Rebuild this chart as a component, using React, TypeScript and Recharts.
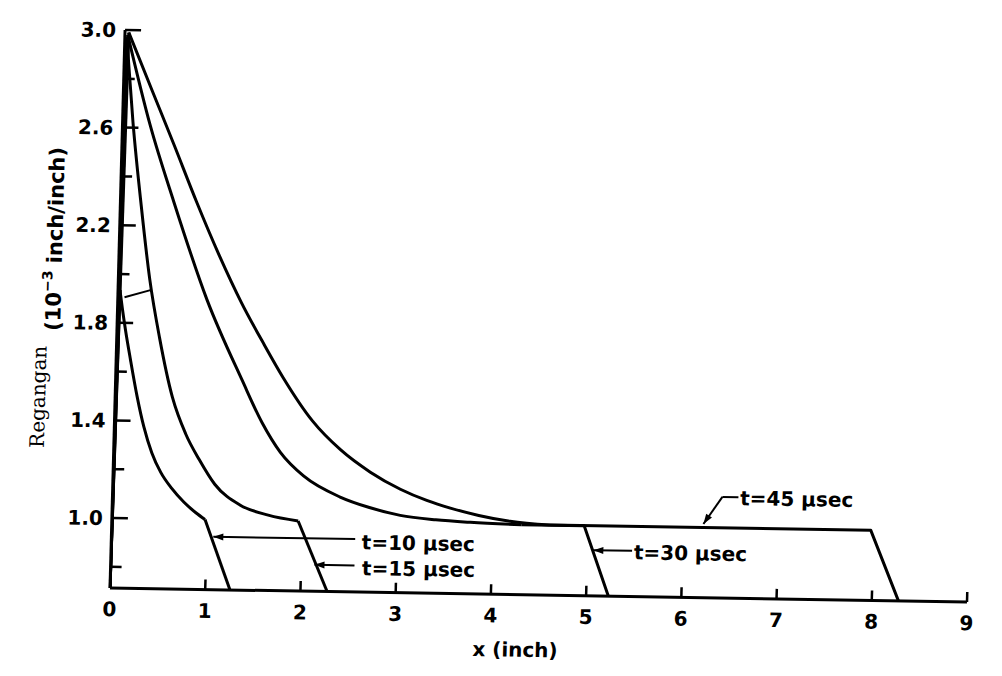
import { LineChart, Line, XAxis, YAxis, ReferenceLine, ReferenceDot } from 'recharts'

interface Pt {
  x: number
  y: number
}

const xTicks = [0, 1, 2, 3, 4, 5, 6, 7, 8, 9]
const yTicks = [0.8, 1.0, 1.2, 1.4, 1.6, 1.8, 2.0, 2.2, 2.4, 2.6, 2.8, 3.0]
const yLabelled = [1.0, 1.4, 1.8, 2.2, 2.6, 3.0]
const yMin = 0.713

// each pulse: steep rise at the loaded end, smooth decay, then the flat part and the wave front
const t10Rise: Pt[] = [{ x: 0, y: 0.713 }, { x: 0.02, y: 1.935 }]
const t10Decay: Pt[] = [
  { x: 0.02, y: 1.935 }, { x: 0.05, y: 1.86 }, { x: 0.09, y: 1.77 }, { x: 0.15, y: 1.65 },
  { x: 0.23, y: 1.5 }, { x: 0.31, y: 1.375 }, { x: 0.4, y: 1.27 }, { x: 0.5, y: 1.19 },
  { x: 0.62, y: 1.125 }, { x: 0.75, y: 1.07 }, { x: 0.88, y: 1.027 }, { x: 0.978, y: 1.0 },
]
const t10Front: Pt[] = [{ x: 0.978, y: 1.0 }, { x: 1.26, y: 0.713 }]

const t15Rise: Pt[] = [{ x: 0, y: 0.713 }, { x: 0.02, y: 2.97 }]
const t15Decay: Pt[] = [
  { x: 0.02, y: 2.97 }, { x: 0.11, y: 2.62 }, { x: 0.22, y: 2.28 }, { x: 0.33, y: 1.98 },
  { x: 0.45, y: 1.74 }, { x: 0.6, y: 1.5 }, { x: 0.75, y: 1.35 }, { x: 0.9, y: 1.245 },
  { x: 1.07, y: 1.145 }, { x: 1.34, y: 1.062 }, { x: 1.64, y: 1.022 }, { x: 1.956, y: 1.0 },
]
const t15Front: Pt[] = [{ x: 1.956, y: 1.0 }, { x: 2.28, y: 0.713 }]

const t30Rise: Pt[] = [{ x: 0, y: 0.713 }, { x: 0.03, y: 2.98 }]
const t30Decay: Pt[] = [
  { x: 0.03, y: 2.98 }, { x: 0.289, y: 2.614 }, { x: 0.56, y: 2.3 }, { x: 0.937, y: 1.9 },
  { x: 1.327, y: 1.574 }, { x: 1.55, y: 1.4 }, { x: 1.75, y: 1.28 }, { x: 2.0, y: 1.185 },
  { x: 2.39, y: 1.101 }, { x: 2.7, y: 1.06 }, { x: 3.026, y: 1.03 }, { x: 3.4, y: 1.014 },
  { x: 3.763, y: 1.006 }, { x: 4.3, y: 1.0 },
]
const t30Front: Pt[] = [{ x: 4.3, y: 1.0 }, { x: 4.96, y: 1.0 }, { x: 5.233, y: 0.713 }]

const t45Rise: Pt[] = [{ x: 0, y: 0.713 }, { x: 0.04, y: 2.99 }]
const t45Decay: Pt[] = [
  { x: 0.04, y: 2.99 }, { x: 0.3, y: 2.755 }, { x: 0.55, y: 2.53 }, { x: 0.8, y: 2.3 },
  { x: 1.05, y: 2.085 }, { x: 1.3, y: 1.89 }, { x: 1.55, y: 1.72 }, { x: 1.76, y: 1.585 },
  { x: 2.08, y: 1.41 }, { x: 2.38, y: 1.295 }, { x: 2.7, y: 1.205 }, { x: 3.02, y: 1.137 },
  { x: 3.3, y: 1.093 }, { x: 3.55, y: 1.063 }, { x: 3.85, y: 1.035 }, { x: 4.18, y: 1.013 },
  { x: 4.6, y: 1.0 },
]
const t45Front: Pt[] = [{ x: 4.6, y: 1.0 }, { x: 7.97, y: 1.0 }, { x: 8.28, y: 0.713 }]

const straightParts = [t10Rise, t10Front, t15Rise, t15Front, t30Rise, t30Front, t45Rise, t45Front]
const curvedParts = [t10Decay, t15Decay, t30Decay, t45Decay]

const curveLabels = [
  { x: 2.63, y: 0.918, text: 't=10 μsec' },
  { x: 2.64, y: 0.812, text: 't=15 μsec' },
  { x: 5.49, y: 0.895, text: 't=30 μsec' },
  { x: 6.59, y: 1.124, text: 't=45 μsec' },
]
const leaders: Pt[][] = [
  [{ x: 1.07, y: 0.93 }, { x: 2.56, y: 0.93 }],
  [{ x: 2.14, y: 0.822 }, { x: 2.56, y: 0.822 }],
  [{ x: 5.063, y: 0.9 }, { x: 5.47, y: 0.9 }],
  [{ x: 6.211, y: 1.015 }, { x: 6.403, y: 1.127 }],
  [{ x: 6.403, y: 1.127 }, { x: 6.571, y: 1.127 }],
  [{ x: 0.07, y: 1.905 }, { x: 0.35, y: 1.937 }],
]
const arrowHeads = [
  { x: 1.07, y: 0.93, angle: 180 },
  { x: 2.14, y: 0.822, angle: 180 },
  { x: 5.063, y: 0.9, angle: 180 },
  { x: 6.211, y: 1.015, angle: 123 },
]

const FONT = '"DejaVu Sans", sans-serif'
const Y_GAP = 9
const X_GAP = 14

function YTick(props: any) {
  const { x, y, payload } = props
  const v = payload.value as number
  const major = yLabelled.some((m) => Math.abs(m - v) < 1e-6)
  const ax = x + Y_GAP
  return (
    <g>
      <line x1={ax} y1={y} x2={ax + (major ? 16 : 11)} y2={y} stroke="#000" strokeWidth={2.5} />
      {major && (
        <text x={x} y={y} dy="0.36em" textAnchor="end" fontFamily={FONT} fontWeight="bold" fontSize={20} fill="#000">
          {v.toFixed(1)}
        </text>
      )}
    </g>
  )
}

function XTick(props: any) {
  const { x, y, payload } = props
  const ay = y - X_GAP
  return (
    <g>
      <line x1={x} y1={ay} x2={x} y2={ay - 10} stroke="#000" strokeWidth={2.5} />
      <text x={x} y={y} dy="0.71em" textAnchor="middle" fontFamily={FONT} fontWeight="bold" fontSize={20} fill="#000">
        {payload.value}
      </text>
    </g>
  )
}

function YTitle() {
  return (
    <g>
      <text transform="rotate(-90 40 398)" x={40} y={398} textAnchor="middle"
        fontFamily='"DejaVu Serif", serif' fontSize={20} fill="#000">
        Regangan
      </text>
      <text transform="rotate(-90 53 240)" x={53} y={240} textAnchor="middle"
        fontFamily={FONT} fontWeight="bold" fontSize={21} fill="#000">
        (10<tspan dy={-9} fontSize={14}>−3</tspan><tspan dy={9}> inch/inch)</tspan>
      </text>
    </g>
  )
}

export default function App() {
  return (
    <div
      style={{
        position: 'absolute', left: 0, top: 0, width: 1002, height: 676, background: '#fff',
        transform: 'matrix(1, 0.0163, -0.027, 1, 0, 0)', transformOrigin: '110px 588px',
      }}
    >
      <LineChart width={1002} height={676} margin={{ top: 30, right: 35, bottom: 0, left: 0 }}>
        <XAxis
          type="number" dataKey="x" domain={[0, 9]} ticks={xTicks} interval={0} allowDataOverflow
          axisLine={{ stroke: '#000', strokeWidth: 3 }} tickLine={false} tickSize={0} tickMargin={X_GAP}
          tick={<XTick />} height={88}
          label={{
            value: 'x (inch)', position: 'insideBottom', offset: 26, dx: -22,
            fill: '#000', fontSize: 20, fontFamily: FONT, fontWeight: 'bold',
          }}
        />
        <YAxis
          type="number" domain={[yMin, 3]} ticks={yTicks} interval={0} allowDataOverflow
          axisLine={{ stroke: '#000', strokeWidth: 3 }} tickLine={false} tickSize={0} tickMargin={Y_GAP}
          tick={<YTick />} width={110} label={<YTitle />}
        />
        {straightParts.map((c, i) => (
          <Line key={'s' + i} data={c} dataKey="y" type="linear" dot={false} stroke="#000"
            strokeWidth={3} strokeLinejoin="round" isAnimationActive={false} />
        ))}
        {curvedParts.map((c, i) => (
          <Line key={'c' + i} data={c} dataKey="y" type="monotone" dot={false} stroke="#000"
            strokeWidth={3} isAnimationActive={false} />
        ))}
        {leaders.map((seg, i) => (
          <ReferenceLine key={'l' + i} segment={seg} stroke="#000" strokeWidth={2} />
        ))}
        {arrowHeads.map((a, i) => (
          <ReferenceDot key={'a' + i} x={a.x} y={a.y} r={0} ifOverflow="visible"
            shape={(p: any) => (
              <polygon points="0,0 -10,-3.5 -10,3.5" fill="#000"
                transform={`translate(${p.cx} ${p.cy}) rotate(${a.angle})`} />
            )}
          />
        ))}
        {curveLabels.map((l, i) => (
          <ReferenceDot key={'t' + i} x={l.x} y={l.y} r={0} ifOverflow="visible"
            shape={(p: any) => (
              <text x={p.cx} y={p.cy} dy="0.36em" fontFamily={FONT} fontWeight="bold" fontSize={20} fill="#000">
                {l.text}
              </text>
            )}
          />
        ))}
      </LineChart>
    </div>
  )
}
